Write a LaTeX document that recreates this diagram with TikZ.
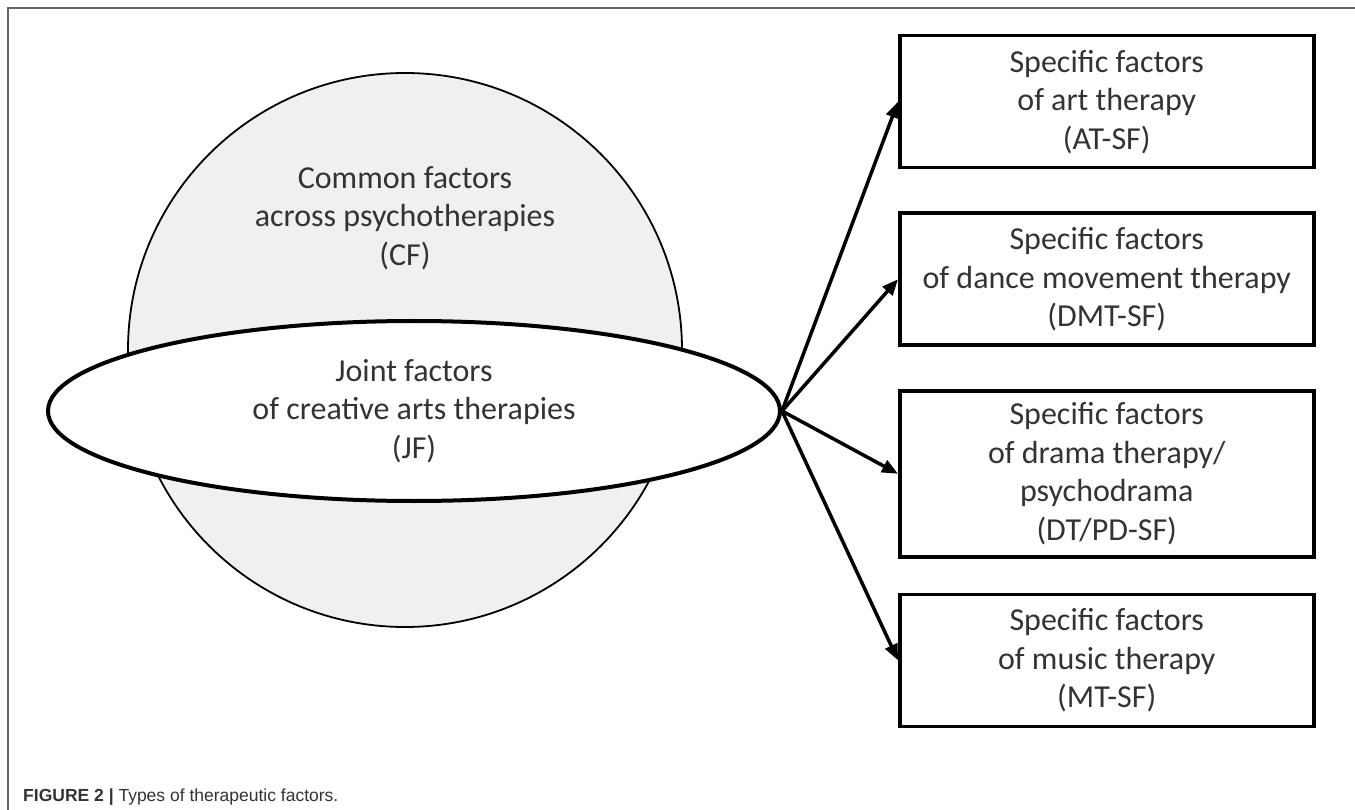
\documentclass[tikz,border=0pt]{standalone}
\usepackage{fontspec}
\setmainfont{Carlito}
\newfontfamily\capfont{Liberation Sans}
\usetikzlibrary{positioning,arrows.meta,shapes.geometric}

\begin{document}
\begin{tikzpicture}[
  x=1pt, y=-1pt,
  font=\fontsize{32}{38.5}\selectfont,
  txt/.style={align=center, text=black!80},
  spec/.style={draw, line width=3.5pt, minimum width=414pt, minimum height=132pt, inner sep=12pt, align=center, text=black!80},
  flow/.style={-{Triangle[length=16pt, width=13pt]}, line width=3.5pt},
  frame/.style={draw=black!60, line width=1.5pt},
  node distance=42pt
]
\useasboundingbox (0,0) rectangle (1355,810);
% ---- Frame ----
\draw[frame] (1355,8) -- (8,8) -- (8,810);
% ---- Common factors (circle) and joint factors (ellipse) ----
\node[circle, draw, line width=1.8pt, fill=black!6, minimum size=554pt, inner sep=0pt] (cf) at (405,350) {};
\node[txt] (cftext) at (405,218) {Common factors\\across psychotherapies\\(CF)};
\node[ellipse, draw, line width=4pt, fill=white, minimum width=732pt, minimum height=180pt, inner sep=0pt, txt] (jf) at (414,411) {Joint factors\\of creative arts therapies\\(JF)};
% ---- Specific factors (boxes) ----
\node[spec, anchor=north west] (at) at (898,34) {Specific factors\\of art therapy\\(AT-SF)};
\node[spec, below=of at] (dmt) {Specific factors\\of dance movement therapy\\(DMT-SF)};
\node[spec, below=of dmt] (dt) {Specific factors\\of drama therapy/\\psychodrama\\(DT/PD-SF)};
\node[spec, below=34pt of dt] (mt) {Specific factors\\of music therapy\\(MT-SF)};
% ---- Arrows ----
\draw[flow] (jf.east) -- (at.west);
\draw[flow] (jf.east) -- (dmt.west);
\draw[flow] (jf.east) -- (dt.west);
\draw[flow] (jf.east) -- (mt.west);
% ---- Caption ----
\node[anchor=base west, inner sep=0pt, font=\capfont\fontsize{17.5}{21}\selectfont, text=black!80] (caption) at (23,801) {\textbf{FIGURE 2 |} Types of therapeutic factors.};
\end{tikzpicture}
\end{document}
